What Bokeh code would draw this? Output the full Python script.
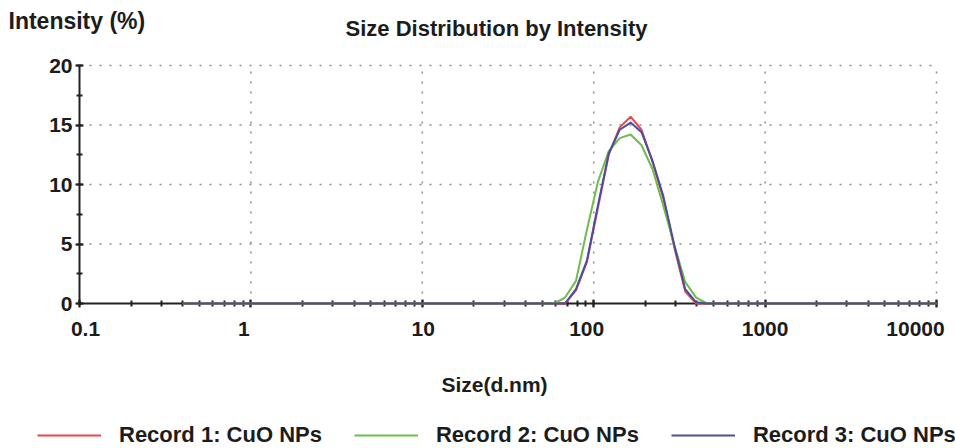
from bokeh.plotting import figure
from bokeh.models import (ColumnDataSource, Label, LabelSet, Legend, LegendItem,
                          SingleIntervalTicker, LogTicker, LogAxis, LinearAxis,
                          CustomJSTickFormatter)
from bokeh.core.properties import value
from bokeh.embed import file_html
from bokeh.resources import INLINE
import math

# ---- data -------------------------------------------------------------
size_nm = [0.4, 0.4632, 0.5365, 0.6213, 0.7195, 0.8332, 0.9649, 1.117, 1.294, 1.499,
           1.736, 2.010, 2.328, 2.696, 3.122, 3.615, 4.187, 4.849, 5.615, 6.503,
           7.531, 8.721, 10.10, 11.70, 13.54, 15.69, 18.17, 21.04, 24.36, 28.21,
           32.67, 37.84, 43.82, 50.75, 58.77, 68.06, 78.82, 91.28, 105.7, 122.4,
           141.8, 164.2, 190.1, 220.2, 255.0, 295.3, 342.0, 396.1, 458.7, 531.2,
           615.1, 712.4, 825.0, 955.4, 1106, 1281, 1484, 1718, 1990, 2305,
           2669, 3091, 3580, 4145, 4801, 5560, 6439, 7456, 8635, 10000]

record1 = [0, 0, 0, 0, 0, 0, 0, 0, 0, 0,
           0, 0, 0, 0, 0, 0, 0, 0, 0, 0,
           0, 0, 0, 0, 0, 0, 0, 0, 0, 0,
           0, 0, 0, 0, 0, 0, 1.1, 3.5, 8.0, 12.5,
           14.8, 15.7, 14.6, 11.9, 8.8, 4.7, 1.0, 0, 0, 0,
           0, 0, 0, 0, 0, 0, 0, 0, 0, 0,
           0, 0, 0, 0, 0, 0, 0, 0, 0, 0]

record2 = [0, 0, 0, 0, 0, 0, 0, 0, 0, 0,
           0, 0, 0, 0, 0, 0, 0, 0, 0, 0,
           0, 0, 0, 0, 0, 0, 0, 0, 0, 0,
           0, 0, 0, 0, 0, 0.5, 1.9, 6.2, 10.2, 12.8,
           13.9, 14.2, 13.3, 11.3, 8.2, 4.9, 1.8, 0.5, 0, 0,
           0, 0, 0, 0, 0, 0, 0, 0, 0, 0,
           0, 0, 0, 0, 0, 0, 0, 0, 0, 0]

record3 = [0, 0, 0, 0, 0, 0, 0, 0, 0, 0,
           0, 0, 0, 0, 0, 0, 0, 0, 0, 0,
           0, 0, 0, 0, 0, 0, 0, 0, 0, 0,
           0, 0, 0, 0, 0, 0, 1.2, 3.6, 8.2, 12.6,
           14.6, 15.2, 14.4, 12.0, 9.0, 4.9, 1.2, 0.1, 0, 0,
           0, 0, 0, 0, 0, 0, 0, 0, 0, 0,
           0, 0, 0, 0, 0, 0, 0, 0, 0, 0]

series_names = ["Record 1: CuO NPs", "Record 2: CuO NPs", "Record 3: CuO NPs"]
series_colors = ["#e8474f", "#6cbd4c", "#4c4c9c"]

x_tick_values = [0.1, 1, 10, 100, 1000, 10000]
x_tick_labels = ["0.1", "1", "10", "100", "1000", "10000"]
x_label_offsets = [6, -7, 1, -7, 0, -21]
y_tick_values = [0, 5, 10, 15, 20]

X_MIN, X_MAX = 0.1, 10000
Y_MIN, Y_MAX = 0, 20

# ---- layout (plot box inside a full-canvas frame) ---------------------
W, H = 955, 448
BOX_L, BOX_R, BOX_T, BOX_B = 79, 936, 65, 303   # pixel edges of the plot box
dec_px = (BOX_R - BOX_L) / (math.log10(X_MAX) - math.log10(X_MIN))
x_lo = 10 ** (math.log10(X_MIN) - BOX_L / dec_px)
x_hi = 10 ** (math.log10(X_MAX) + (W - BOX_R) / dec_px)
u_px = (BOX_B - BOX_T) / (Y_MAX - Y_MIN)
y_lo = Y_MIN - (H - BOX_B) / u_px
y_hi = Y_MAX + BOX_T / u_px

FONT = "Liberation Sans"
TXT = "#1c1c1c"
AX = "#222222"

p = figure(width=W, height=H, x_axis_type="log",
           x_axis_location=None, y_axis_location=None,
           x_range=(x_lo, x_hi), y_range=(y_lo, y_hi),
           output_backend="svg", toolbar_location=None,
           min_border=0)
p.outline_line_color = None
p.xgrid.visible = False
p.ygrid.visible = False
p.background_fill_color = "white"
p.border_fill_color = "white"

# dotted grid lines, from the tick lists
grid_kw = dict(line_color="#8c8c8c", line_dash="2 8", line_width=1.5, level="underlay")
p.segment(x0=x_tick_values[1:], y0=[Y_MIN] * 5, x1=x_tick_values[1:], y1=[Y_MAX] * 5, **grid_kw)
p.segment(x0=[X_MIN] * 4, y0=y_tick_values[1:], x1=[X_MAX] * 4, y1=y_tick_values[1:], **grid_kw)

# y axis
yax = LinearAxis(fixed_location=X_MIN, bounds=(Y_MIN, Y_MAX),
                 ticker=SingleIntervalTicker(interval=5, num_minor_ticks=2))
yax.axis_line_color = AX
yax.axis_line_width = 2
yax.major_tick_line_color = AX
yax.major_tick_line_width = 2
yax.minor_tick_line_color = AX
yax.minor_tick_line_width = 2
yax.major_tick_in = 4
yax.major_tick_out = 4
yax.minor_tick_in = 3
yax.minor_tick_out = 3
yax.major_label_standoff = 3
yax.major_label_text_font = FONT
yax.major_label_text_font_style = "bold"
yax.major_label_text_font_size = "21px"
yax.major_label_text_color = TXT
p.add_layout(yax, "left")

# x axis
xax = LogAxis(fixed_location=Y_MIN, bounds=(X_MIN, X_MAX),
              ticker=LogTicker(num_minor_ticks=10))
xax.axis_line_color = AX
xax.axis_line_width = 2
xax.major_tick_line_color = AX
xax.major_tick_line_width = 2
xax.minor_tick_line_color = AX
xax.minor_tick_line_width = 2
xax.major_tick_in = 4
xax.major_tick_out = 4
xax.minor_tick_in = 3
xax.minor_tick_out = 3
xax.formatter = CustomJSTickFormatter(code="return ''")
p.add_layout(xax, "below")

# series
renderers = []
for vals, col in zip([record1, record2, record3], series_colors):
    src = ColumnDataSource(dict(x=size_nm, y=vals))
    r = p.line("x", "y", source=src, line_color=col, line_width=2, level="overlay")
    renderers.append(r)

# x tick labels (placed through the x scale)
lab_src = ColumnDataSource(dict(x=x_tick_values, text=x_tick_labels,
                                y=[H - 328] * len(x_tick_values), off=x_label_offsets))
p.add_layout(LabelSet(x="x", y="y", text="text", x_offset="off", source=lab_src,
                      y_units="screen", text_align="center", text_baseline="middle",
                      text_font=value(FONT), text_font_style="bold",
                      text_font_size="21px", text_color=TXT))

# titles
def add_text(txt, x, y, size, align="center"):
    p.add_layout(Label(x=x, y=H - y, x_units="screen", y_units="screen",
                       text=txt, text_align=align, text_baseline="middle",
                       text_font=FONT, text_font_style="bold",
                       text_font_size=size, text_color=TXT))

add_text("Size Distribution by Intensity", 496, 28, "22px")
add_text("Intensity (%)", 8, 20, "23px", align="left")
add_text("Size(d.nm)", 494, 384, "21px")

# legend
legend = Legend(items=[LegendItem(label=n, renderers=[r]) for n, r in zip(series_names, renderers)],
                orientation="horizontal", location=(37, 0),
                padding=0, margin=0, spacing=32, label_standoff=18,
                glyph_width=64, glyph_height=20, label_height=20,
                border_line_color=None, background_fill_alpha=0,
                label_text_font=FONT, label_text_font_style="bold",
                label_text_font_size="22px", label_text_color=TXT)
p.add_layout(legend, "center")

open("out.html", "w").write(file_html(p, INLINE))
